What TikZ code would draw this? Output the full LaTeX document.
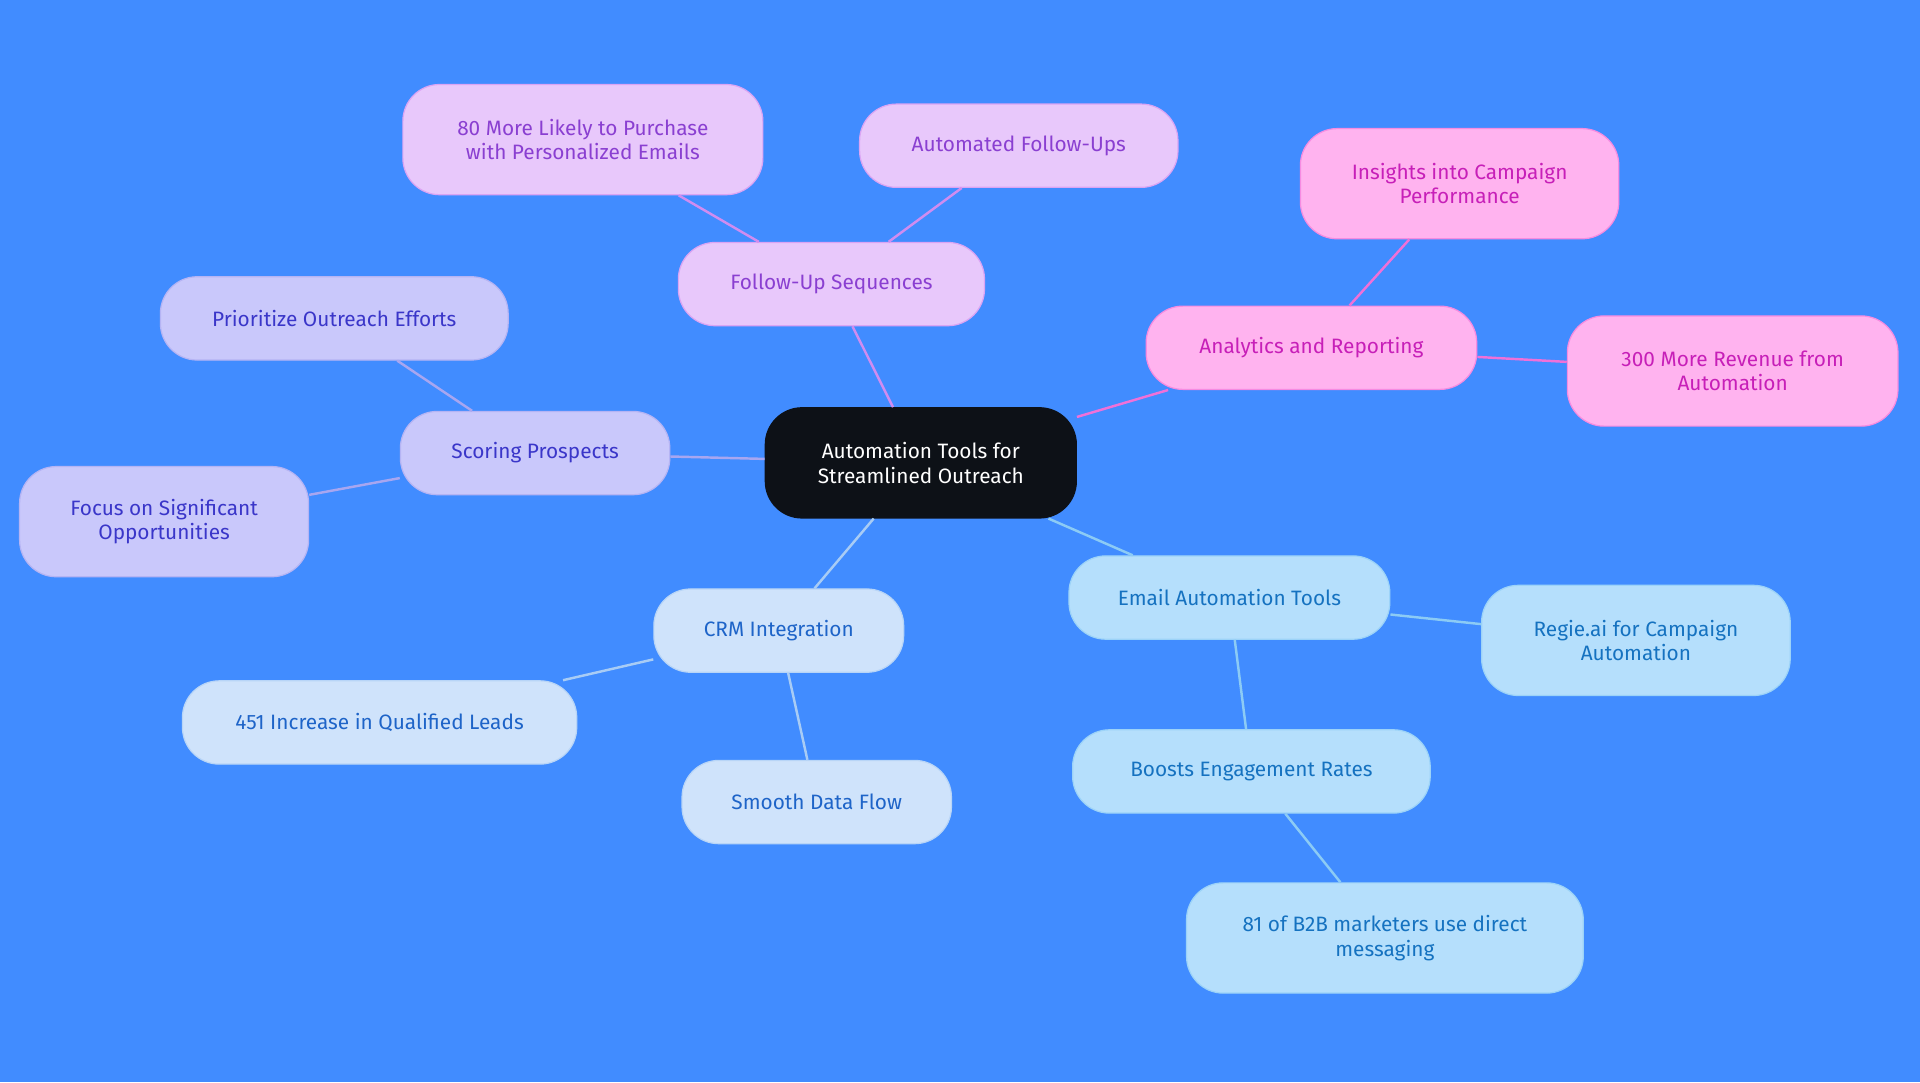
\documentclass[tikz,border=0pt]{standalone}
\usepackage{fontspec}
\setmainfont{Fira Sans}
\definecolor{bg}{HTML}{418CFF}
\definecolor{cfill}{HTML}{0D1117}
\definecolor{pf}{HTML}{E8C8FB}\definecolor{pt}{HTML}{8A3FD1}\definecolor{pl}{HTML}{D08CF0}
\definecolor{kf}{HTML}{FFB3EF}\definecolor{kt}{HTML}{C71FB8}\definecolor{kl}{HTML}{F070D8}
\definecolor{sf}{HTML}{C9C8FB}\definecolor{st}{HTML}{3A36C9}\definecolor{sl}{HTML}{A8A6F0}
\definecolor{cf}{HTML}{CFE3FB}\definecolor{ct}{HTML}{1E64C8}\definecolor{cl}{HTML}{A8CCF5}
\definecolor{ef}{HTML}{B5DFFC}\definecolor{et}{HTML}{1572C0}\definecolor{el}{HTML}{8CCBF5}
\begin{document}
\begin{tikzpicture}[x=1pt,y=-1pt,
 box/.style={rounded corners=30pt,align=center,font=\fontsize{17}{20}\selectfont,inner sep=0pt,line width=1pt},
 bx/.style n args={4}{box,minimum width=#1,minimum height=#2,fill=#3,draw=#4},
 pb/.style={text=pt}, kb/.style={text=kt}, sb/.style={text=st}, cb/.style={text=ct}, eb/.style={text=et}]
\fill[bg] (0,0) rectangle (1568,884);
\node[bx={254}{90}{cfill}{cfill},text=white] (c) at (752,378) {Automation Tools for\\Streamlined Outreach};
\node[bx={250}{68}{pf}{pl!60!pf},pb] (f) at (679,232) {Follow-Up Sequences};
\node[bx={294}{90}{pf}{pl!60!pf},pb] (f1) at (476,114) {80 More Likely to Purchase\\with Personalized Emails};
\node[bx={260}{68}{pf}{pl!60!pf},pb] (f2) at (832,119) {Automated Follow-Ups};
\node[bx={270}{68}{kf}{kl!60!kf},kb] (a) at (1071,284) {Analytics and Reporting};
\node[bx={260}{90}{kf}{kl!60!kf},kb] (a1) at (1192,150) {Insights into Campaign\\Performance};
\node[bx={270}{90}{kf}{kl!60!kf},kb] (a2) at (1415,303) {300 More Revenue from\\Automation};
\node[bx={220}{68}{sf}{sl!60!sf},sb] (s) at (437,370) {Scoring Prospects};
\node[bx={284}{68}{sf}{sl!60!sf},sb] (s1) at (273,260) {Prioritize Outreach Efforts};
\node[bx={236}{90}{sf}{sl!60!sf},sb] (s2) at (134,426) {Focus on Significant\\Opportunities};
\node[bx={204}{68}{cf}{cl!60!cf},cb] (r) at (636,515) {CRM Integration};
\node[bx={322}{68}{cf}{cl!60!cf},cb] (r1) at (310,590) {451 Increase in Qualified Leads};
\node[bx={220}{68}{cf}{cl!60!cf},cb] (r2) at (667,655) {Smooth Data Flow};
\node[bx={262}{68}{ef}{el!60!ef},eb] (e) at (1004,488) {Email Automation Tools};
\node[bx={252}{90}{ef}{el!60!ef},eb] (e1) at (1336,523) {Regie.ai for Campaign\\Automation};
\node[bx={292}{68}{ef}{el!60!ef},eb] (e2) at (1022,630) {Boosts Engagement Rates};
\node[bx={324}{90}{ef}{el!60!ef},eb] (e3) at (1131,766) {81 of B2B marketers use direct\\messaging};
\begin{scope}[on background layer/.style={},line width=2pt]
\end{scope}
\begin{scope}[line width=2pt]
\draw[pl] (c) -- (f); \draw[pl] (f) -- (f1); \draw[pl] (f) -- (f2);
\draw[kl] (c) -- (a); \draw[kl] (a) -- (a1); \draw[kl] (a) -- (a2);
\draw[sl] (c) -- (s); \draw[sl] (s) -- (s1); \draw[sl] (s) -- (s2);
\draw[cl] (c) -- (r); \draw[cl] (r) -- (r1); \draw[cl] (r) -- (r2);
\draw[el] (c) -- (e); \draw[el] (e) -- (e1); \draw[el] (e) -- (e2); \draw[el] (e2) -- (e3);
\end{scope}
\end{tikzpicture}
\end{document}
